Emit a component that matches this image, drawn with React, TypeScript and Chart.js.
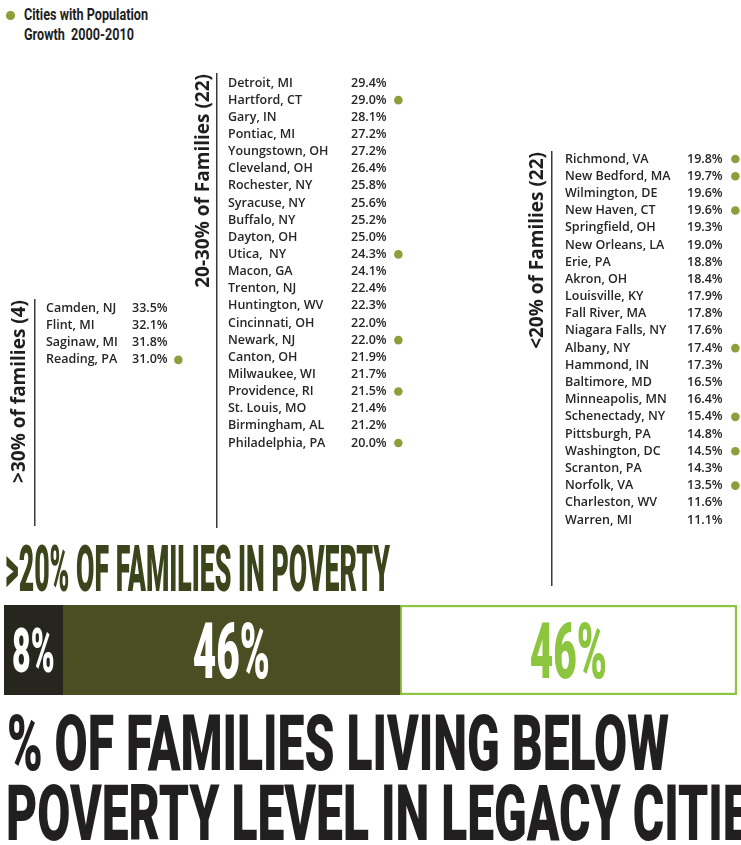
import React, { useEffect, useRef, useMemo } from 'react';
import { Chart, registerables } from 'chart.js';

Chart.register(...registerables);

// ---------- DATA ----------
const over30Cities = ['Camden, NJ', 'Flint, MI', 'Saginaw, MI', 'Reading, PA'];
const over30Values = [33.5, 32.1, 31.8, 31.0];

const midCities = [
  'Detroit, MI', 'Hartford, CT', 'Gary, IN', 'Pontiac, MI', 'Youngstown, OH', 'Cleveland, OH',
  'Rochester, NY', 'Syracuse, NY', 'Buffalo, NY', 'Dayton, OH', 'Utica,  NY', 'Macon, GA',
  'Trenton, NJ', 'Huntington, WV', 'Cincinnati, OH', 'Newark, NJ', 'Canton, OH', 'Milwaukee, WI',
  'Providence, RI', 'St. Louis, MO', 'Birmingham, AL', 'Philadelphia, PA',
];
const midValues = [
  29.4, 29.0, 28.1, 27.2, 27.2, 26.4, 25.8, 25.6, 25.2, 25.0, 24.3, 24.1,
  22.4, 22.3, 22.0, 22.0, 21.9, 21.7, 21.5, 21.4, 21.2, 20.0,
];

const under20Cities = [
  'Richmond, VA', 'New Bedford, MA', 'Wilmington, DE', 'New Haven, CT', 'Springfield, OH',
  'New Orleans, LA', 'Erie, PA', 'Akron, OH', 'Louisville, KY', 'Fall River, MA',
  'Niagara Falls, NY', 'Albany, NY', 'Hammond, IN', 'Baltimore, MD', 'Minneapolis, MN',
  'Schenectady, NY', 'Pittsburgh, PA', 'Washington, DC', 'Scranton, PA', 'Norfolk, VA',
  'Charleston, WV', 'Warren, MI',
];
const under20Values = [
  19.8, 19.7, 19.6, 19.6, 19.3, 19.0, 18.8, 18.4, 17.9, 17.8, 17.6,
  17.4, 17.3, 16.5, 16.4, 15.4, 14.8, 14.5, 14.3, 13.5, 11.6, 11.1,
];

const growthCities = [
  'Reading, PA', 'Hartford, CT', 'Utica,  NY', 'Newark, NJ', 'Providence, RI', 'Philadelphia, PA',
  'Richmond, VA', 'New Bedford, MA', 'New Haven, CT', 'Albany, NY', 'Schenectady, NY',
  'Washington, DC', 'Norfolk, VA',
];

const groupTitles = ['>30% of families (4)', '20-30% of Families (22)', '<20% of Families (22)'];
const shareLabels = ['>30% of families', '20-30% of families', '<20% of families'];
const shareValues = [8, 46, 46];

// ---------- STYLE ----------
const GREEN_DOT = '#8ba03a';
const LIME = '#8cc63f';
const OLIVE = '#4a4e22';
const BLACKISH = '#26261f';
const HEAD_OLIVE = '#3c441c';
const TEXT = '#262626';
const LIST_FONT = "'Open Sans', 'Noto Sans', sans-serif";
const COND_FONT = 'Roboto';
const COND_WEIGHT = 900;
const PAD = 10;

type Geo = {
  left: number; top: number; bottom: number; lineX: number;
  cityX: number; valueX: number; dotX: number; firstRow: number; spacing: number;
};

function CityList(props: { cities: string[]; values: number[]; title: string; g: Geo }) {
  const { cities, values, title, g } = props;
  const ref = useRef<HTMLCanvasElement>(null);
  const W = g.dotX + 6 - g.left;
  const H = g.bottom - g.top + 2 * PAD;
  useEffect(() => {
    const span = g.bottom - g.top;
    const min = -(g.firstRow - g.top) / g.spacing;
    const max = min + span / g.spacing;
    const tickFont = { family: LIST_FONT, size: 12.5, weight: 600 as any, lineHeight: 1.2 };
    const rowTicks = (scale: any) => {
      scale.ticks = cities.map((_, i) => ({ value: i }));
    };
    const dots = cities
      .map((c, i) => (growthCities.includes(c) ? { x: 0.5, y: i } : null))
      .filter(Boolean) as { x: number; y: number }[];
    const chart = new Chart(ref.current!, {
      type: 'scatter',
      data: {
        datasets: [
          {
            label: 'Cities with Population Growth 2000-2010',
            data: dots,
            xAxisID: 'x',
            yAxisID: 'y',
            pointRadius: 4.3,
            pointBackgroundColor: GREEN_DOT,
            pointBorderWidth: 0,
            clip: false as any,
          } as any,
        ],
      },
      options: {
        animation: false,
        responsive: false,
        events: [],
        layout: { padding: { top: PAD, bottom: PAD, left: 0, right: 0 } },
        plugins: { legend: { display: false }, tooltip: { enabled: false } },
        scales: {
          x: { type: 'linear', display: false, min: 0, max: 1 },
          yt: {
            type: 'linear',
            position: 'left',
            weight: 4,
            grid: { display: false },
            ticks: { display: false },
            border: { display: true, color: '#3a3a3a', width: 1.5 },
            title: {
              display: true,
              text: title,
              align: 'end',
              color: '#1e1e1e',
              padding: 0,
              font: { family: LIST_FONT, size: 19, weight: 'bold', lineHeight: 1.2 },
            },
            afterFit: (s: any) => { s.width = g.lineX - g.left; },
          },
          ys: {
            type: 'linear',
            position: 'left',
            weight: 3,
            grid: { display: false },
            ticks: { display: false },
            border: { display: false },
            afterFit: (s: any) => { s.width = g.cityX - g.lineX; },
          },
          y: {
            type: 'linear',
            position: 'left',
            weight: 2,
            min, max, reverse: true, bounds: 'data',
            grid: { display: false },
            border: { display: false },
            afterBuildTicks: rowTicks,
            ticks: {
              autoSkip: false, crossAlign: 'far', padding: 0, font: tickFont, color: TEXT,
              callback: (v: any) => cities[v] ?? '',
            },
            afterFit: (s: any) => { s.width = g.valueX - g.cityX; },
          },
          yv: {
            type: 'linear',
            position: 'left',
            weight: 1,
            min, max, reverse: true, bounds: 'data',
            grid: { display: false },
            border: { display: false },
            afterBuildTicks: rowTicks,
            ticks: {
              autoSkip: false, crossAlign: 'far', padding: 0, font: tickFont, color: TEXT,
              callback: (v: any) => (values[v] !== undefined ? values[v].toFixed(1) + '%' : ''),
            },
            afterFit: (s: any) => { s.width = g.dotX - 5 - g.valueX; },
          },
        } as any,
      },
    });
    return () => chart.destroy();
  }, []);
  return (
    <canvas
      ref={ref}
      width={W}
      height={H}
      style={{ position: 'absolute', left: g.left, top: g.top - PAD, width: W, height: H }}
    />
  );
}

const barLabelPlugin = {
  id: 'barLabels',
  afterDatasetsDraw(chart: any) {
    const ctx = chart.ctx as CanvasRenderingContext2D;
    const colors = ['#ffffff', '#ffffff', LIME];
    const sizes = [62, 78, 78];
    chart.data.datasets.forEach((ds: any, i: number) => {
      const el = chart.getDatasetMeta(i).data[0];
      if (!el) return;
      const p = el.getProps(['x', 'y', 'base'], true);
      const cx = (p.x + p.base) / 2;
      const size = sizes[i];
      ctx.save();
      ctx.font = `${COND_WEIGHT} ${size}px ${COND_FONT}`;
      ctx.fillStyle = colors[i];
      ctx.textAlign = 'center';
      ctx.textBaseline = 'alphabetic';
      ctx.translate(cx, p.y + (size * 0.711) / 2);
      ctx.scale(0.52, 1);
      ctx.fillText(`${ds.data[0]}%`, 0, 0);
      ctx.restore();
    });
  },
};

function ShareBar() {
  const ref = useRef<HTMLCanvasElement>(null);
  useEffect(() => {
    const fills = [BLACKISH, OLIVE, '#ffffff'];
    const borders = [BLACKISH, OLIVE, LIME];
    const chart = new Chart(ref.current!, {
      type: 'bar',
      data: {
        labels: ['Legacy cities'],
        datasets: shareLabels.map((lab, i) => ({
          label: lab,
          data: [shareValues[i]],
          backgroundColor: fills[i],
          borderColor: borders[i],
          borderWidth: i === 2 ? 2.5 : 0,
          borderSkipped: false as any,
          barPercentage: 1,
          categoryPercentage: 1,
        })),
      },
      options: {
        indexAxis: 'y',
        animation: false,
        responsive: false,
        events: [],
        layout: { padding: 0 },
        plugins: { legend: { display: false }, tooltip: { enabled: false } },
        scales: {
          x: { stacked: true, display: false, min: 0, max: 100 },
          y: { stacked: true, display: false },
        },
      },
      plugins: [barLabelPlugin],
    });
    return () => chart.destroy();
  }, []);
  return (
    <canvas
      ref={ref}
      width={733}
      height={90}
      style={{ position: 'absolute', left: 4, top: 605, width: 733, height: 90 }}
    />
  );
}

let measureCtx: CanvasRenderingContext2D | null = null;
function measure(text: string, font: string) {
  if (!measureCtx) measureCtx = document.createElement('canvas').getContext('2d');
  measureCtx!.font = font;
  return measureCtx!.measureText(text).width;
}

function CondText(props: {
  text: string; left: number; capTop: number; size: number; scale: number; color: string; weight: number;
}) {
  const { text, left, capTop, size, scale, color, weight } = props;
  return (
    <div
      style={{
        position: 'absolute',
        left,
        top: capTop - 0.13 * size,
        fontFamily: COND_FONT,
        fontWeight: weight,
        fontSize: size,
        lineHeight: 1,
        color,
        whiteSpace: 'pre',
        transformOrigin: 'left top',
        transform: `scaleX(${scale})`,
      }}
    >
      {text}
    </div>
  );
}

export default function App() {
  const head = '>20% OF FAMILIES IN POVERTY';
  const t1 = '% OF FAMILIES LIVING BELOW';
  const t2 = 'POVERTY LEVEL IN LEGACY CITIES';
  const leg1 = 'Cities with Population';
  const leg2 = 'Growth  2000-2010';
  const scales = useMemo(() => {
    const f = (w: number, s: number) => `${w} ${s}px ${COND_FONT}`;
    return {
      head: 385 / measure(head, f(COND_WEIGHT, 65)),
      title: 662 / measure(t1, f(COND_WEIGHT, 77)),
      leg: 124 / measure(leg1, f(700, 16)),
    };
  }, []);

  return (
    <div
      style={{
        position: 'fixed', left: 0, top: 0, width: 741, height: 845,
        overflow: 'hidden', background: '#ffffff',
      }}
    >
      {/* legend */}
      <div
        style={{
          position: 'absolute', left: 6, top: 11, width: 8.5, height: 8.5,
          borderRadius: '50%', background: GREEN_DOT,
        }}
      />
      <CondText text={leg1} left={24} capTop={9} size={16} scale={scales.leg} color="#1e1e1e" weight={700} />
      <CondText text={leg2} left={24} capTop={29} size={16} scale={scales.leg} color="#1e1e1e" weight={700} />

      <CityList
        cities={over30Cities}
        values={over30Values}
        title={groupTitles[0]}
        g={{ left: 8, top: 300, bottom: 525, lineX: 35, cityX: 46, valueX: 132, dotX: 180, firstRow: 308, spacing: 17.3 }}
      />
      <CityList
        cities={midCities}
        values={midValues}
        title={groupTitles[1]}
        g={{ left: 192, top: 74, bottom: 527, lineX: 217, cityX: 228, valueX: 351, dotX: 400, firstRow: 83, spacing: 17.14 }}
      />
      <CityList
        cities={under20Cities}
        values={under20Values}
        title={groupTitles[2]}
        g={{ left: 526, top: 152, bottom: 585, lineX: 552, cityX: 565, valueX: 687, dotX: 737, firstRow: 159, spacing: 17.19 }}
      />

      <CondText text={head} left={5} capTop={545} size={65} scale={scales.head} color={HEAD_OLIVE} weight={COND_WEIGHT} />
      <ShareBar />
      <CondText text={t1} left={7} capTop={716} size={77} scale={scales.title} color="#211f1f" weight={COND_WEIGHT} />
      <CondText text={t2} left={6} capTop={786} size={77} scale={scales.title} color="#211f1f" weight={COND_WEIGHT} />
    </div>
  );
}
